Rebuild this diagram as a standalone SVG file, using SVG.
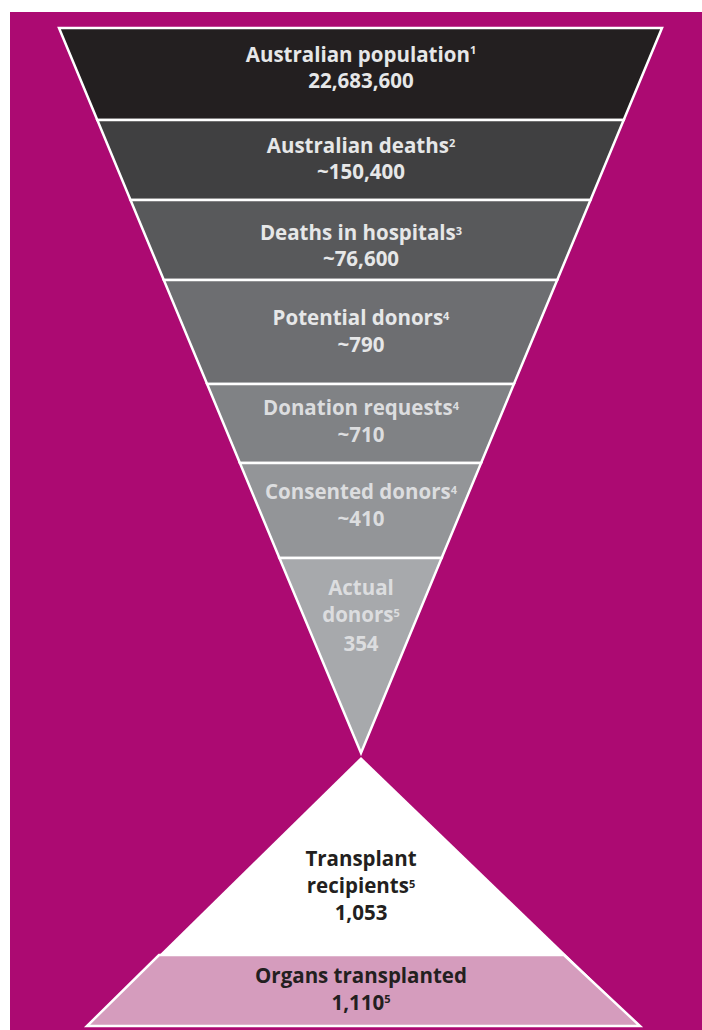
<svg xmlns="http://www.w3.org/2000/svg" width="702" height="1030" viewBox="0 0 702 1030">
  <style>
    .band { stroke: #ffffff; stroke-width: 2.5; stroke-linejoin: miter; }
    .lbl { font-family: "Open Sans", "Liberation Sans", sans-serif; font-weight: bold; font-size: 20.5px; text-anchor: middle; }
    .light { fill: #e6e7e8; }
    .light2 { fill: #dcdddf; }
    .dark { fill: #231f20; }
    .sup { font-size: 11px; }
  </style>
  <rect x="0" y="0" width="702" height="1030" fill="#ffffff"/>
  <rect x="10" y="12" width="692" height="1018" fill="#ac0a72"/>

  <g id="band-population">
    <polygon class="band" fill="#231f20" points="59,28 662,28 623.7,120 97.3,120"/>
    <text class="lbl light" x="361" y="62">Australian population<tspan class="sup" dy="-8">1</tspan></text>
    <text class="lbl light" x="361" y="88">22,683,600</text>
  </g>
  <g id="band-deaths">
    <polygon class="band" fill="#404041" points="97.3,120 623.7,120 590.5,200 130.5,200"/>
    <text class="lbl light" x="361" y="153">Australian deaths<tspan class="sup" dy="-6">2</tspan></text>
    <text class="lbl light" x="361" y="179">~150,400</text>
  </g>
  <g id="band-hospitals">
    <polygon class="band" fill="#58595b" points="130.5,200 590.5,200 557.2,280 163.8,280"/>
    <text class="lbl light" x="361" y="240">Deaths in hospitals<tspan class="sup" dy="-5">3</tspan></text>
    <text class="lbl light" x="361" y="266">~76,600</text>
  </g>
  <g id="band-potential">
    <polygon class="band" fill="#6d6e71" points="163.8,280 557.2,280 513.9,384 207.1,384"/>
    <text class="lbl light" x="361" y="325">Potential donors<tspan class="sup" dy="-5">4</tspan></text>
    <text class="lbl light" x="361" y="352">~790</text>
  </g>
  <g id="band-requests">
    <polygon class="band" fill="#808285" points="207.1,384 513.9,384 481.1,463 239.9,463"/>
    <text class="lbl light2" x="361" y="415">Donation requests<tspan class="sup" dy="-5">4</tspan></text>
    <text class="lbl light2" x="361" y="442">~710</text>
  </g>
  <g id="band-consented">
    <polygon class="band" fill="#939598" points="239.9,463 481.1,463 441.6,558 279.4,558"/>
    <text class="lbl light2" x="361" y="499">Consented donors<tspan class="sup" dy="-5">4</tspan></text>
    <text class="lbl light2" x="361" y="526">~410</text>
  </g>
  <g id="band-actual">
    <polygon class="band" fill="#a7a9ac" points="279.4,558 441.6,558 361,753"/>
    <text class="lbl light2" x="361" y="595">Actual</text>
    <text class="lbl light2" x="361" y="622">donors<tspan class="sup" dy="-5">5</tspan></text>
    <text class="lbl light2" x="361" y="651">354</text>
  </g>

  <g id="triangle-recipients">
    <polygon fill="#ffffff" points="361,757 640,1026 87,1026"/>
    <text class="lbl dark" x="361" y="866">Transplant</text>
    <text class="lbl dark" x="361" y="893">recipients<tspan class="sup" dy="-5">5</tspan></text>
    <text class="lbl dark" x="361" y="920">1,053</text>
  </g>
  <g id="band-organs">
    <polygon class="band" fill="#d59cbd" points="159,955 564,955 640,1026 87,1026"/>
    <text class="lbl dark" x="361" y="983">Organs transplanted</text>
    <text class="lbl dark" x="361" y="1010">1,110<tspan class="sup" dy="-7">5</tspan></text>
  </g>
  <g id="connectors"></g>
</svg>
